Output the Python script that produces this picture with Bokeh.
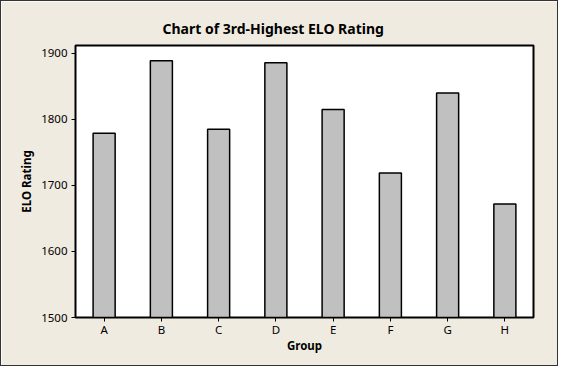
from bokeh.plotting import figure
from bokeh.models import Range1d, FactorRange, FixedTicker
from bokeh.embed import file_html
from bokeh.resources import INLINE

groups = ["A", "B", "C", "D", "E", "F", "G", "H"]
ratings = [1779, 1889, 1785, 1886, 1815, 1719, 1840, 1672]
y_ticks = [1500, 1600, 1700, 1800, 1900]

BG = "#F0EBE0"
FONT = "Noto Sans"

p = figure(width=558, height=366, output_backend="svg", toolbar_location=None,
           x_range=FactorRange(factors=groups, range_padding=0),
           y_range=Range1d(1500, 1912),
           min_border_left=74, min_border_right=26, min_border_top=44, min_border_bottom=50)
p.styles = {"border": "1px solid #333333"}

p.vbar(x=groups, top=ratings, bottom=1500, width=0.385,
       fill_color="#C0C0C0", line_color="black", line_width=1.5)

p.background_fill_color = "white"
p.border_fill_color = BG
p.outline_line_color = "black"
p.outline_line_width = 2
p.xgrid.visible = False
p.ygrid.visible = False

p.title.text = "Chart of 3rd-Highest ELO Rating"
p.title.align = "left"
p.title.offset = 87
p.title.text_font = FONT
p.title.text_font_size = "14px"
p.title.text_font_style = "bold"
p.title.text_color = "black"
p.title.standoff = 15

p.yaxis.ticker = FixedTicker(ticks=y_ticks)
for ax in (p.xaxis, p.yaxis):
    ax.major_tick_out = 4
    ax.major_tick_in = 0
    ax.minor_tick_out = 0
    ax.minor_tick_in = 0
    ax.major_tick_line_color = "black"
    ax.axis_line_color = "black"
    ax.major_label_text_font = FONT
    ax.major_label_text_font_size = "11.5px"
    ax.major_label_text_color = "black"
    ax.axis_label_text_font = FONT
    ax.axis_label_text_font_size = "11.5px"
    ax.axis_label_text_font_style = "bold"
    ax.axis_label_text_color = "black"

p.yaxis.major_label_standoff = 4
p.xaxis.major_label_standoff = 0
p.xaxis.axis_label = "Group"
p.yaxis.axis_label = "ELO Rating"
p.xaxis.axis_label_standoff = -2
p.yaxis.axis_label_standoff = 4

open("out.html", "w").write(file_html(p, INLINE))
